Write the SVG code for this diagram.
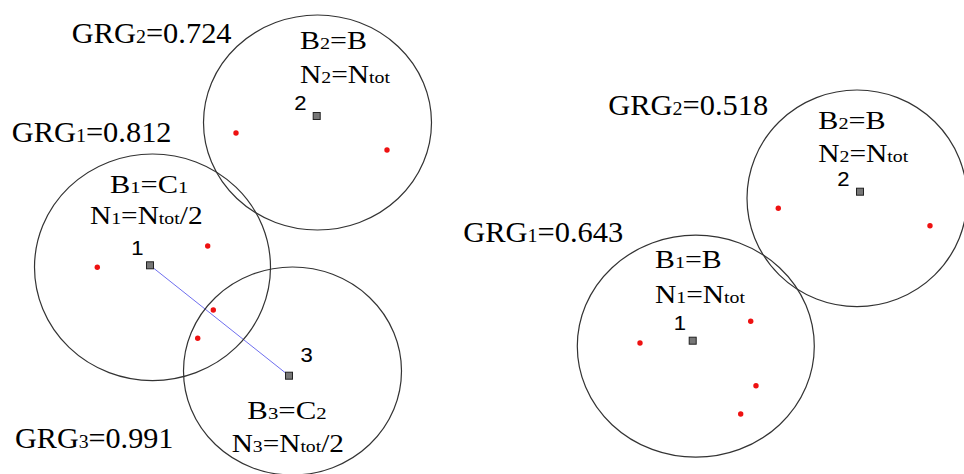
<svg xmlns="http://www.w3.org/2000/svg" width="964" height="474" viewBox="0 0 964 474">
<style>
.c{fill:none;stroke:#333;stroke-width:1.2}
.d{fill:#ee1111}
.s{fill:#777;stroke:#222;stroke-width:1}
.g{font-family:"Liberation Serif","Times New Roman",serif;font-size:29px;fill:#000}
.t{font-family:"Liberation Serif","Times New Roman",serif;font-size:26px;fill:#000}
.sb{font-size:17.5px}
.sg{font-size:19px}
.n{font-family:"Liberation Sans",Arial,sans-serif;font-size:21px;fill:#000;stroke:#000;stroke-width:0.1;text-anchor:middle}
.e{stroke:#6f6fef;stroke-width:1;fill:none}
</style>
<rect width="964" height="474" fill="#fff"/>
<g id="connectors">
<line class="e" x1="150" y1="265.3" x2="289" y2="375.7"/>
</g>
<g id="L2">
<ellipse class="c" cx="317.5" cy="122.5" rx="114" ry="107.5"/>
<circle class="d" cx="236" cy="133" r="2.7"/>
<circle class="d" cx="387" cy="150" r="2.7"/>
<rect class="s" x="313.2" y="112.5" width="7" height="7"/>
<text class="n" transform="translate(300.5,109.5) scale(1.05,1)">2</text>
<text class="t" transform="translate(300,49.3) scale(1.153,1)">B<tspan class="sb">2</tspan>=B</text>
<text class="t" transform="translate(300,82.7) scale(1.133,1)">N<tspan class="sb">2</tspan>=N<tspan class="sb">tot</tspan></text>
<text class="g" transform="translate(71.7,43.3) scale(1.05,1)">GRG<tspan class="sg">2</tspan>=0.724</text>
</g>
<g id="L1">
<ellipse class="c" cx="152.5" cy="267.3" rx="118" ry="113.3"/>
<circle class="d" cx="97.3" cy="267.3" r="2.7"/>
<circle class="d" cx="207.7" cy="246" r="2.7"/>
<circle class="d" cx="213.3" cy="310" r="2.7"/>
<circle class="d" cx="197.7" cy="338.3" r="2.7"/>
<rect class="s" x="146.5" y="261.8" width="7" height="7"/>
<text class="n" transform="translate(137.3,254.5) scale(1.05,1)">1</text>
<text class="t" transform="translate(110,192.7) scale(1.17,1)">B<tspan class="sb">1</tspan>=C<tspan class="sb">1</tspan></text>
<text class="t" transform="translate(90,224) scale(1.13,1)">N<tspan class="sb">1</tspan>=N<tspan class="sb">tot</tspan>/2</text>
<text class="g" transform="translate(11.7,141.7) scale(1.05,1)">GRG<tspan class="sg">1</tspan>=0.812</text>
</g>
<g id="L3">
<ellipse class="c" cx="292.5" cy="371" rx="109" ry="104"/>
<rect class="s" x="285.5" y="372.2" width="7" height="7"/>
<text class="n" transform="translate(306.7,361.5) scale(1.05,1)">3</text>
<text class="t" transform="translate(247.3,419) scale(1.186,1)">B<tspan class="sb">3</tspan>=C<tspan class="sb">2</tspan></text>
<text class="t" transform="translate(231.7,452.3) scale(1.127,1)">N<tspan class="sb">3</tspan>=N<tspan class="sb">tot</tspan>/2</text>
<text class="g" transform="translate(15,448.3) scale(1.04,1)">GRG<tspan class="sg">3</tspan>=0.991</text>
</g>
<g id="R1">
<ellipse class="c" cx="695.8" cy="346.2" rx="118.5" ry="111"/>
<circle class="d" cx="640" cy="343" r="2.7"/>
<circle class="d" cx="750.7" cy="321.3" r="2.7"/>
<circle class="d" cx="756" cy="385.7" r="2.7"/>
<circle class="d" cx="740.7" cy="414" r="2.7"/>
<rect class="s" x="689.2" y="337.2" width="7" height="7"/>
<text class="n" transform="translate(680,329.5) scale(1.05,1)">1</text>
<text class="t" transform="translate(655,268.3) scale(1.148,1)">B<tspan class="sb">1</tspan>=B</text>
<text class="t" transform="translate(655,303.3) scale(1.133,1)">N<tspan class="sb">1</tspan>=N<tspan class="sb">tot</tspan></text>
<text class="g" transform="translate(463.3,242.3) scale(1.05,1)">GRG<tspan class="sg">1</tspan>=0.643</text>
</g>
<g id="R2">
<ellipse class="c" cx="857" cy="198.3" rx="110" ry="108.3"/>
<circle class="d" cx="778.3" cy="208.3" r="2.7"/>
<circle class="d" cx="930" cy="225.7" r="2.7"/>
<rect class="s" x="856.5" y="188.2" width="7" height="7"/>
<text class="n" transform="translate(843.3,185.5) scale(1.05,1)">2</text>
<text class="t" transform="translate(818.3,129.3) scale(1.16,1)">B<tspan class="sb">2</tspan>=B</text>
<text class="t" transform="translate(818.3,161.7) scale(1.133,1)">N<tspan class="sb">2</tspan>=N<tspan class="sb">tot</tspan></text>
<text class="g" transform="translate(608.3,115) scale(1.05,1)">GRG<tspan class="sg">2</tspan>=0.518</text>
</g>
</svg>
